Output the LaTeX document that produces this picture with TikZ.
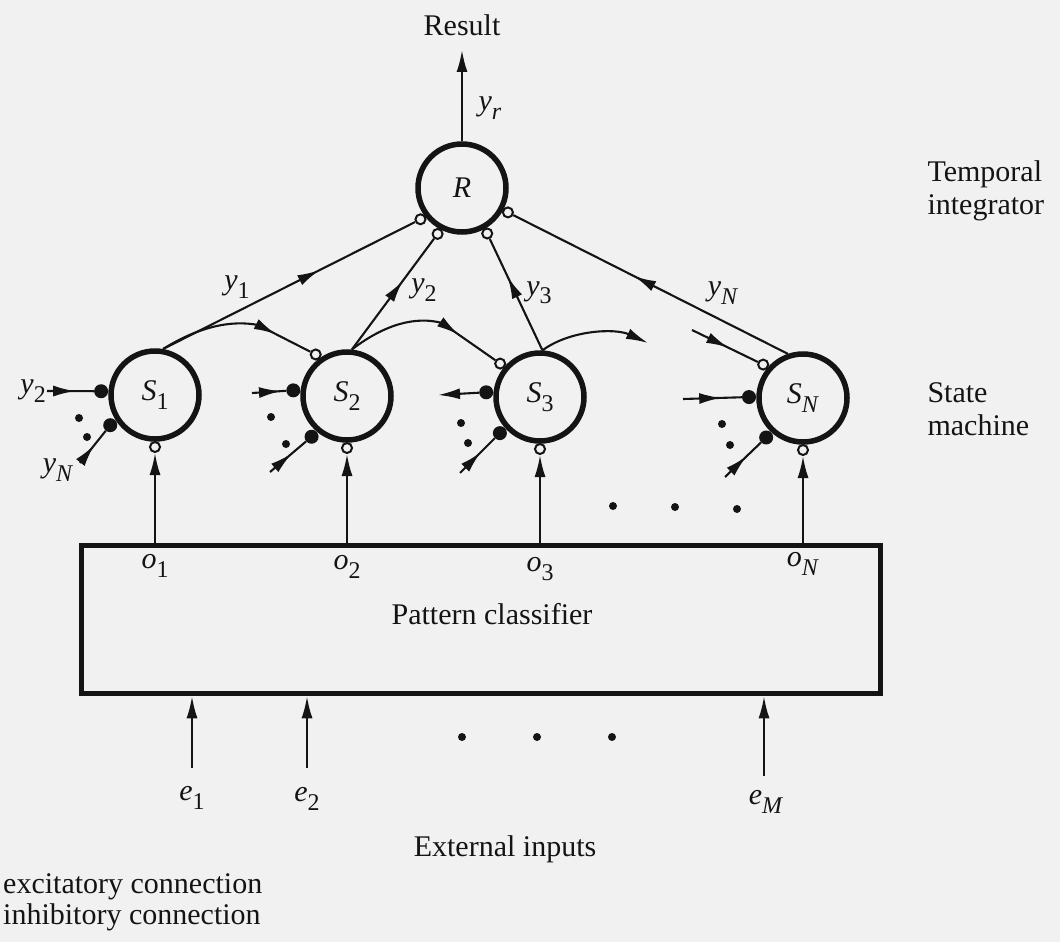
\documentclass[tikz,border=0pt]{standalone}
\usepackage{fontspec}
\setmainfont{Liberation Serif}
\usetikzlibrary{arrows.meta,decorations.markings,calc}

\definecolor{paper}{RGB}{241,241,241}
\definecolor{ink}{RGB}{20,20,20}

% italic symbol with a lowered subscript
\newcommand\sbl[2]{\textit{#1}\raisebox{-0.28em}{\fontsize{24}{24}\selectfont #2}}

\begin{document}
\begin{tikzpicture}[x=1pt,y=-1pt,
  every node/.style={font=\fontsize{30}{33}\selectfont, text=ink},
  unit/.style={circle, draw=ink, line width=5.5pt, minimum size=88pt, inner sep=0pt, fill=paper},
  opendot/.style={circle, draw=ink, line width=2pt, fill=paper, minimum size=10pt, inner sep=0pt},
  filldot/.style={circle, fill=ink, minimum size=14pt, inner sep=0pt},
  dotmark/.style={circle, fill=ink, minimum size=8pt, inner sep=0pt},
  wire/.style={draw=ink, line width=2.1pt},
  arrowend/.style={-{Latex[length=22pt,width=11pt]}},
  midtip/.style={postaction={decorate}, decoration={markings,
      mark=at position #1 with {\arrow{Latex[length=22pt,width=11pt]}}}},
  midtip/.default=0.6,
]
\fill[paper] (0,0) rectangle (1060,942);
\useasboundingbox (0,0) rectangle (1060,942);

% ---- units ----
\node[unit] (R)  at (462,188) {\textit{R}};
\node[unit] (S1) at (155,395) {\sbl{S}{1}};
\node[unit] (S2) at (347,396) {\sbl{S}{2}};
\node[unit] (S3) at (540,397) {\sbl{S}{3}};
\node[unit] (SN) at (803,398) {\sbl{S}{\textit{N}}};

% ---- pattern classifier ----
\node[draw=ink, line width=5.5pt, minimum width=799pt, minimum height=148pt, inner sep=0pt] (PC) at (481,619.5) {};
\node (pcl) at (492,614) {Pattern classifier};

% ---- synapses on R ----
\node[opendot] (r1) at ([shift={(217:52pt)}]R.center) {};
\node[opendot] (r2) at ([shift={(242:52pt)}]R.center) {};
\node[opendot] (r3) at ([shift={(299:52pt)}]R.center) {};
\node[opendot] (r4) at ([shift={(332:52pt)}]R.center) {};

% ---- synapses on the state units ----
\node[filldot] (f1a) at ([shift={(176:54pt)}]S1.center) {};
\node[filldot] (f1b) at ([shift={(214:54pt)}]S1.center) {};
\node[opendot] (b1)  at ([shift={(270:52pt)}]S1.center) {};

\node[opendot] (s2a) at ([shift={(127:52pt)}]S2.center) {};
\node[filldot] (f2a) at ([shift={(174:54pt)}]S2.center) {};
\node[filldot] (f2b) at ([shift={(229:54pt)}]S2.center) {};
\node[opendot] (b2)  at ([shift={(270:52pt)}]S2.center) {};

\node[opendot] (s3a) at ([shift={(140:52pt)}]S3.center) {};
\node[filldot] (f3a) at ([shift={(175:54pt)}]S3.center) {};
\node[filldot] (f3b) at ([shift={(222:54pt)}]S3.center) {};
\node[opendot] (b3)  at ([shift={(270:52pt)}]S3.center) {};

\node[opendot] (sNa) at ([shift={(140:52pt)}]SN.center) {};
\node[filldot] (fNa) at ([shift={(179:54pt)}]SN.center) {};
\node[filldot] (fNb) at ([shift={(227:54pt)}]SN.center) {};
\node[opendot] (bN)  at ([shift={(270:52pt)}]SN.center) {};

% ---- output of R ----
\coordinate (rtop) at (462,50);
\node (res) at (462,25) {Result};
\draw[wire, arrowend] (R.north) -- (rtop);
\node at (490,108) {\sbl{y}{\textit{r}}};

% ---- state units to R ----
\draw[wire, midtip=0.62] (S1.80)  -- (r1);
\draw[wire, midtip=0.62] (S2.84)  -- (r2);
\draw[wire, midtip=0.66] (S3.87)  -- (r3);
\draw[wire, midtip=0.56] (SN.109) -- (r4);
\node at (237,287) {\sbl{y}{1}};
\node at (424,290) {\sbl{y}{2}};
\node at (539,293) {\sbl{y}{3}};
\node at (723,293) {\sbl{y}{\textit{N}}};

% ---- chain between successive state units ----
\coordinate (J1) at (258,325);
\coordinate (J2) at (442,323);
\draw[wire] (S1.80) .. controls (200,326) and (232,320) .. (J1);
\draw[wire, midtip={20pt}] (J1) -- (s2a);
\draw[wire] (S2.84) .. controls (385,324) and (416,316) .. (J2);
\draw[wire, midtip={20pt}] (J2) -- (s3a);
\coordinate (o3end) at (648,343);
\draw[wire, arrowend] (S3.87) .. controls (570,330) and (615,328) .. (o3end);
\coordinate (inN) at (692,330);
\draw[wire, midtip=0.55] (inN) -- (sNa);

% ---- cross inputs, S1 ----
\coordinate (i1a) at (47,391);
\coordinate (i1b) at (80,463);
\draw[wire, midtip=0.6] (i1a) -- (f1a);
\draw[wire, midtip=0.55] (i1b) -- (f1b);
\node[anchor=east, inner sep=1pt] at (i1a) {\sbl{y}{2}};
\node at (58,470) {\sbl{y}{\textit{N}}};
\node[dotmark] (d1a) at (79,418) {};
\node[dotmark] (d1b) at (87,437) {};

% ---- cross inputs, S2 ----
\coordinate (i2a) at (252,393);
\coordinate (i2b) at (270,472);
\draw[wire, midtip=0.85] (i2a) -- (f2a);
\draw[wire, midtip=0.6] (i2b) -- (f2b);
\node[dotmark] (d2a) at (271,417) {};
\node[dotmark] (d2b) at (286,444) {};

% ---- cross inputs, S3 ----
\coordinate (i3a) at (438,395);
\coordinate (i3b) at (460,473);
\draw[wire, arrowend] (f3a) -- (i3a);
\draw[wire, midtip=0.6] (i3b) -- (f3b);
\node[dotmark] (d3a) at (461,423) {};
\node[dotmark] (d3b) at (468,443) {};

% ---- cross inputs, SN ----
\coordinate (iNa) at (683,399);
\coordinate (iNb) at (725,477);
\draw[wire, midtip=0.65] (iNa) -- (fNa);
\draw[wire, midtip=0.6] (iNb) -- (fNb);
\node[dotmark] (dNa) at (722,424) {};
\node[dotmark] (dNb) at (730,445) {};

% ---- omitted units ----
\node[dotmark] (g1) at (613,506) {};
\node[dotmark] (g2) at (675,507) {};
\node[dotmark] (g3) at (737,509) {};

% ---- classifier outputs ----
\draw[wire, arrowend] (PC.north -| b1) -- (b1);
\draw[wire, arrowend] (PC.north -| b2) -- (b2);
\draw[wire, arrowend] (PC.north -| b3) -- (b3);
\draw[wire, arrowend] (PC.north -| bN) -- (bN);
\node at (155,566) {\sbl{o}{1}};
\node at (347,567) {\sbl{o}{2}};
\node at (540,569) {\sbl{o}{3}};
\node at (803,564) {\sbl{o}{\textit{N}}};

% ---- external inputs ----
\coordinate (e1) at (192,768);
\coordinate (e2) at (307,768);
\coordinate (eM) at (764,776);
\draw[wire, arrowend] (e1) -- (e1 |- PC.south);
\draw[wire, arrowend] (e2) -- (e2 |- PC.south);
\draw[wire, arrowend] (eM) -- (eM |- PC.south);
\node at (192,798) {\sbl{e}{1}};
\node at (307,799) {\sbl{e}{2}};
\node at (766,802) {\sbl{e}{\textit{M}}};
\node[dotmark] (h1) at (462,737) {};
\node[dotmark] (h2) at (537,737) {};
\node[dotmark] (h3) at (612,737) {};
\node (ext) at (505,849) {External inputs};

% ---- layer names ----
\node[anchor=west, align=left] (tl) at (924,191) {Temporal\\integrator};
\node[anchor=west, align=left] (sl) at (924,409) {State\\machine};

% ---- legend ----
\node[anchor=west, inner sep=0pt] (lx) at (3,887) {excitatory connection};
\node[anchor=west, inner sep=0pt] (li) at (3,917) {inhibitory connection};
\end{tikzpicture}
\end{document}
